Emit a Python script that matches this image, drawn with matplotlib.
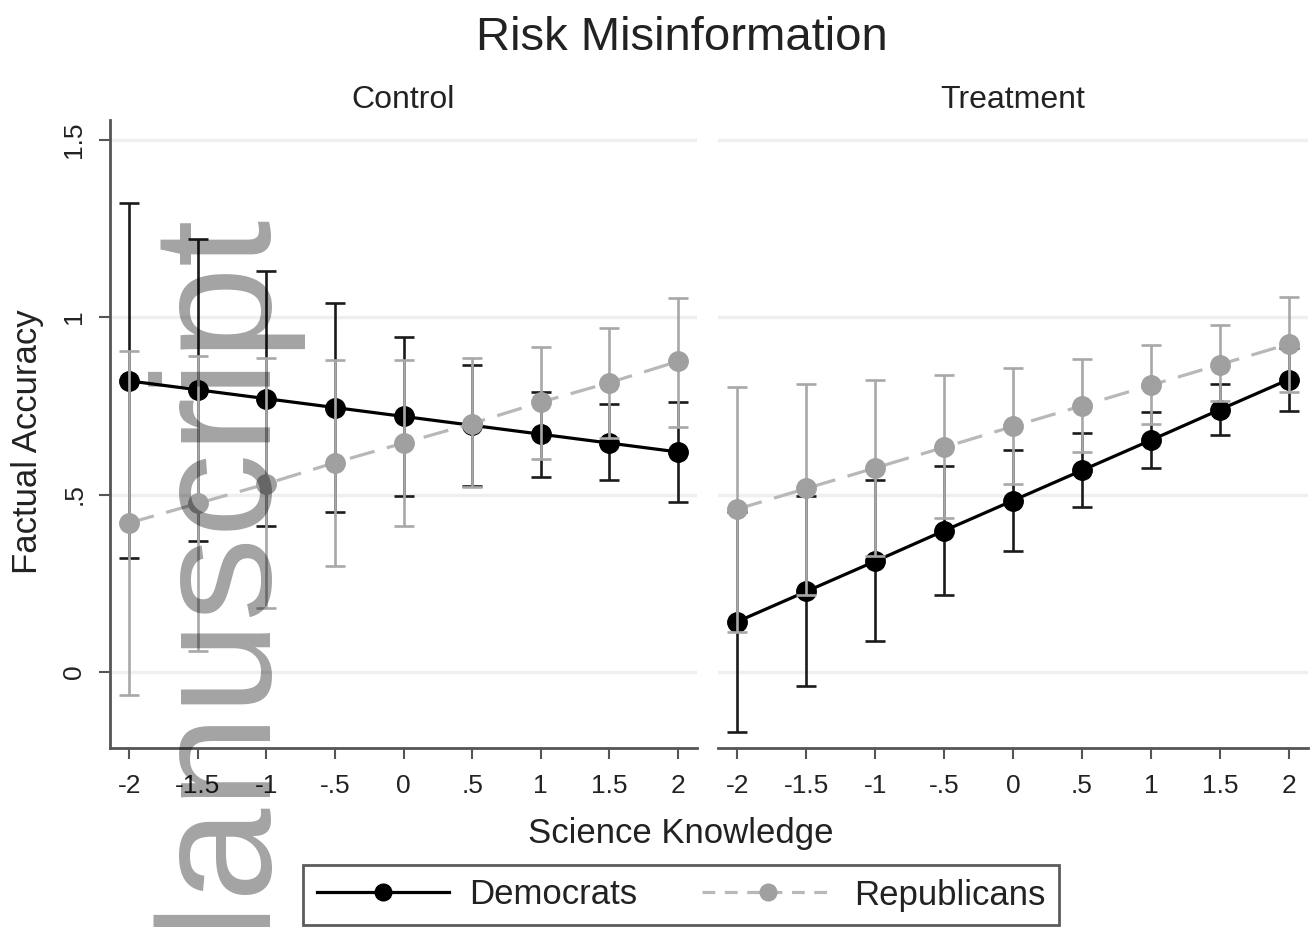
import numpy as np
import matplotlib
matplotlib.use("Agg")
import matplotlib.pyplot as plt
from matplotlib.lines import Line2D

plt.rcParams['font.family'] = ['Liberation Sans', 'DejaVu Sans']

# science knowledge levels
knowledge = [-2, -1.5, -1, -.5, 0, .5, 1, 1.5, 2]
tick_labels = ["-2", "-1.5", "-1", "-.5", "0", ".5", "1", "1.5", "2"]

# Control panel
dem_control = [0.82, 0.795, 0.77, 0.745, 0.72, 0.695, 0.67, 0.645, 0.62]
dem_control_lo = [0.32, 0.37, 0.41, 0.45, 0.495, 0.525, 0.55, 0.54, 0.48]
dem_control_hi = [1.32, 1.22, 1.13, 1.04, 0.945, 0.865, 0.79, 0.755, 0.76]
rep_control = [0.42, 0.475, 0.53, 0.59, 0.645, 0.70, 0.76, 0.815, 0.875]
rep_control_lo = [-0.065, 0.06, 0.18, 0.30, 0.41, 0.52, 0.60, 0.66, 0.69]
rep_control_hi = [0.905, 0.89, 0.885, 0.88, 0.88, 0.885, 0.915, 0.97, 1.055]

# Treatment panel
dem_treat = [0.142, 0.227, 0.312, 0.398, 0.483, 0.568, 0.653, 0.739, 0.824]
dem_treat_lo = [-0.168, -0.04, 0.088, 0.217, 0.34, 0.464, 0.576, 0.668, 0.734]
dem_treat_hi = [0.452, 0.495, 0.54, 0.58, 0.625, 0.674, 0.733, 0.81, 0.914]
rep_treat = [0.459, 0.517, 0.575, 0.633, 0.692, 0.75, 0.808, 0.866, 0.924]
rep_treat_lo = [0.114, 0.217, 0.328, 0.434, 0.529, 0.62, 0.70, 0.763, 0.79]
rep_treat_hi = [0.804, 0.811, 0.824, 0.838, 0.857, 0.883, 0.92, 0.977, 1.057]

y_ticks = [0, .5, 1, 1.5]
y_tick_labels = ["0", ".5", "1", "1.5"]

DEM = "#000000"
REP_MARK = "#a0a0a0"
REP_LINE = "#b8b8b8"
AXC = "#555555"
TXT = "#222222"

W, H = 1310, 927
fig = plt.figure(figsize=(W / 100, H / 100), dpi=100)
ax1 = fig.add_axes([110 / W, 1 - 748 / H, 587 / W, 628 / H])
ax2 = fig.add_axes([718 / W, 1 - 748 / H, 590 / W, 628 / H])


def draw_panel(ax, dem, dem_lo, dem_hi, rep, rep_lo, rep_hi, show_y):
    x = np.array(knowledge)
    dem = np.array(dem)
    rep = np.array(rep)
    ax.errorbar(x, dem, yerr=[dem - np.array(dem_lo), np.array(dem_hi) - dem],
                fmt="none", ecolor="#1a1a1a", elinewidth=1.9, capsize=7, capthick=1.9, zorder=2)
    ax.plot(x, dem, color=DEM, lw=2.3, marker="o", ms=14, zorder=3)
    ax.errorbar(x, rep, yerr=[rep - np.array(rep_lo), np.array(rep_hi) - rep],
                fmt="none", ecolor="#a8a8a8", elinewidth=1.9, capsize=7, capthick=1.9, zorder=4)
    ax.plot(x, rep, color=REP_LINE, lw=2.3, ls=(0, (8, 4)), zorder=5)
    ax.plot(x, rep, ls="none", marker="o", ms=14, color=REP_MARK, zorder=6)

    ax.set_xlim(-2.14, 2.14)
    ax.set_ylim(-0.214, 1.555)
    ax.set_xticks(knowledge)
    ax.set_xticklabels(tick_labels)
    ax.set_yticks(y_ticks)
    ax.grid(axis="y", color="#efefef", lw=2.5, zorder=0)
    ax.set_axisbelow(True)
    for s in ["top", "right"]:
        ax.spines[s].set_visible(False)
    ax.spines["bottom"].set_color(AXC)
    ax.spines["bottom"].set_linewidth(2)
    ax.tick_params(axis="x", length=8, width=1.5, color=AXC, pad=11,
                   labelsize=19, labelcolor=TXT)
    if show_y:
        ax.spines["left"].set_color(AXC)
        ax.spines["left"].set_linewidth(2)
        ax.set_yticklabels(y_tick_labels)
        ax.tick_params(axis="y", length=8, width=1.5, color=AXC, pad=9,
                       labelsize=19, labelcolor=TXT, labelrotation=90)
        for lab in ax.get_yticklabels():
            lab.set_va("center")
    else:
        ax.spines["left"].set_visible(False)
        ax.tick_params(axis="y", length=0, labelleft=False)


draw_panel(ax1, dem_control, dem_control_lo, dem_control_hi,
           rep_control, rep_control_lo, rep_control_hi, True)
draw_panel(ax2, dem_treat, dem_treat_lo, dem_treat_hi,
           rep_treat, rep_treat_lo, rep_treat_hi, False)

fig.text(403 / W, 1 - 100 / H, "Control", ha="center", va="center", fontsize=23, color=TXT)
fig.text(1013 / W, 1 - 100 / H, "Treatment", ha="center", va="center", fontsize=23, color=TXT)
fig.text(682 / W, 1 - 38 / H, "Risk Misinformation", ha="center", va="center",
         fontsize=34, color=TXT)
fig.text(681 / W, 1 - 833 / H, "Science Knowledge", ha="center", va="center",
         fontsize=25, color=TXT)
fig.text(28 / W, 1 - 442 / H, "Factual Accuracy", ha="center", va="center",
         rotation=90, fontsize=25, color=TXT)

handles = [
    Line2D([], [], color=DEM, lw=2.3, marker="o", ms=12),
    Line2D([], [], color=REP_LINE, lw=2.3, ls=(0, (4, 3)), marker="o", ms=12,
           markerfacecolor=REP_MARK, markeredgecolor=REP_MARK),
]
leg = fig.legend(handles, ["Democrats", "Republicans"], ncol=2, loc="center",
                 bbox_to_anchor=(681 / W, 1 - 895 / H), fontsize=25,
                 handlelength=3.8, handletextpad=0.58, columnspacing=1.87,
                 frameon=True, fancybox=False, borderpad=0.4)
leg.get_frame().set_edgecolor("#333333")
leg.get_frame().set_linewidth(2)
for t in leg.get_texts():
    t.set_color(TXT)

# watermark
fig.text(257 / W, 1 - 1027 / H, "Manuscript", rotation=90, rotation_mode="anchor",
         ha="left", va="baseline", fontsize=121, color="black", alpha=0.36, zorder=10)

fig.savefig("out.png", dpi=100)
